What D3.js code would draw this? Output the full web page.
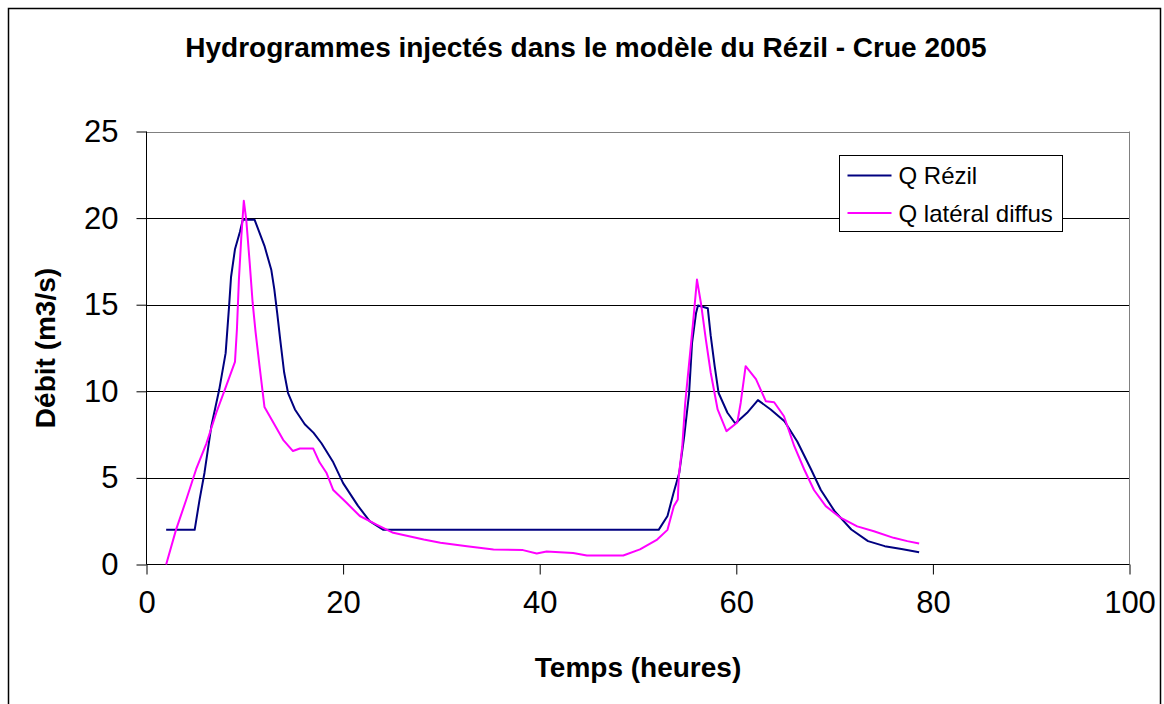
<!DOCTYPE html>
<html>
<head>
<meta charset="utf-8">
<script src="https://cdn.jsdelivr.net/npm/d3@7"></script>
<style>
  html, body { margin: 0; padding: 0; background: #fff; }
  .chart { width: 1164px; height: 704px; }
  text { font-family: "Liberation Sans", Arial, sans-serif; fill: #000; }
</style>
</head>
<body>
<div class="chart"></div>
<script>
const title = 'Hydrogrammes injectés dans le modèle du Rézil - Crue 2005';
const xLabel = 'Temps (heures)';
const yLabel = 'Débit (m3/s)';
const seriesNames = ['Q Rézil', 'Q latéral diffus'];
const seriesColors = ['#000080', '#ff00ff'];

const xTicks = [0, 20, 40, 60, 80, 100];
const yTicks = [0, 5, 10, 15, 20, 25];

// Q Rézil
const rezilT = [2, 4.9, 5.4, 5.9, 6.6, 7.4, 8.05, 8.4, 8.6, 9.0, 9.5, 9.8, 11.0, 12.0, 12.7, 13.0, 13.3,
  13.6, 14.0, 14.4, 15.1, 16.1, 17.0, 17.8, 19.0, 20.0, 21.5, 22.7, 24.1, 52.1, 53.0, 53.6, 54.2,
  54.7, 55.2, 55.5, 55.9, 56.1, 57.1, 57.4, 57.8, 58.2, 59.1, 59.9, 61.1, 62.2, 63.5, 64.9, 66.2,
  67.6, 68.6, 70.0, 71.7, 73.4, 75.1, 76.8, 78.6];
const rezilQ = [2, 2, 3.75, 5.3, 8.0, 10.1, 12.2, 14.9, 16.6, 18.2, 19.2, 19.9, 19.9, 18.4, 17.0, 15.9,
  14.5, 13.0, 11.1, 9.9, 8.95, 8.1, 7.6, 7.0, 5.9, 4.7, 3.4, 2.5, 2.0, 2.0, 2.8, 4.1, 5.3, 7.4, 9.9,
  12.8, 14.5, 14.95, 14.8, 13.2, 11.45, 9.9, 8.76, 8.14, 8.76, 9.49, 8.95, 8.27, 7.1, 5.5, 4.3, 3.08,
  2.02, 1.35, 1.06, 0.9, 0.71];

// Q latéral diffus
const lateralT = [2, 3.0, 4.05, 5.05, 6.1, 7.1, 8.1, 9.0, 9.2, 9.4, 9.65, 9.9, 10.15, 10.5, 10.8, 11.1,
  11.5, 12.0, 12.9, 13.9, 14.9, 15.6, 16.95, 17.6, 18.3, 19.0, 20.35, 21.7, 23.4, 25.1, 28.2, 29.9,
  32.6, 35.3, 38.3, 39.7, 40.7, 43.4, 44.8, 48.5, 50.2, 51.95, 53.0, 53.65, 54.05, 54.15, 54.5, 54.8,
  55.3, 55.6, 56.0, 56.4, 56.9, 57.4, 58.1, 59.0, 60.1, 60.45, 60.95, 62.0, 63.0, 63.85, 64.85, 65.9,
  66.9, 67.9, 69.1, 70.6, 72.3, 74.0, 76.0, 77.4, 78.6];
const lateralQ = [0, 2.0, 3.75, 5.5, 7.0, 8.76, 10.3, 11.7, 13.6, 16.45, 18.96, 21.0, 19.9, 17.4, 15.1,
  13.4, 11.45, 9.1, 8.2, 7.2, 6.55, 6.7, 6.7, 5.9, 5.3, 4.3, 3.56, 2.8, 2.3, 1.83, 1.44, 1.25, 1.06,
  0.87, 0.83, 0.64, 0.75, 0.67, 0.52, 0.52, 0.87, 1.44, 2.0, 3.37, 3.75, 5.1, 6.8, 9.3, 12.2, 13.95,
  16.45, 15.1, 13.0, 11.07, 8.95, 7.7, 8.2, 9.34, 11.45, 10.7, 9.43, 9.37, 8.56, 6.83, 5.5, 4.3, 3.37,
  2.7, 2.2, 1.92, 1.54, 1.35, 1.21];

const series = [
  { name: seriesNames[0], color: seriesColors[0], points: rezilT.map((t, i) => [t, rezilQ[i]]) },
  { name: seriesNames[1], color: seriesColors[1], points: lateralT.map((t, i) => [t, lateralQ[i]]) }
];

const svg = d3.select('.chart')
  .append('svg')
  .attr('width', 1164)
  .attr('height', 704);

svg.append('rect')
  .attr('width', 1164)
  .attr('height', 704)
  .style('fill', '#fff');

// outer frame of the chart
svg.append('rect')
  .attr('x', 8.5)
  .attr('y', 8.5)
  .attr('width', 1152)
  .attr('height', 720)
  .style('fill', 'none')
  .style('stroke', '#000')
  .style('stroke-width', 1.5);

const plot = { left: 146.5, right: 1129.5, top: 131.5, bottom: 564.5 };

const xScale = d3.scaleLinear()
  .domain([0, 100])
  .range([plot.left, plot.right]);

const yScale = d3.scaleLinear()
  .domain([0, 25])
  .range([plot.bottom, plot.top]);

// gridlines
svg.append('g')
  .selectAll('line')
  .data(yTicks.filter(d => d > 0))
  .enter()
  .append('line')
  .attr('x1', plot.left)
  .attr('x2', plot.right)
  .attr('y1', d => Math.round(yScale(d)) + 0.5)
  .attr('y2', d => Math.round(yScale(d)) + 0.5)
  .style('stroke', d => d === 25 ? '#808080' : '#000')
  .style('stroke-width', 1);

svg.append('line')
  .attr('x1', plot.right)
  .attr('x2', plot.right)
  .attr('y1', plot.top)
  .attr('y2', plot.bottom)
  .style('stroke', '#808080');

const xAxis = d3.axisBottom(xScale)
  .tickValues(xTicks)
  .tickSize(10)
  .tickPadding(16)
  .tickFormat(d3.format('d'));

const yAxis = d3.axisLeft(yScale)
  .tickValues(yTicks)
  .tickSize(10)
  .tickPadding(18)
  .tickFormat(d3.format('d'));

const gx = svg.append('g')
  .attr('transform', `translate(0, ${plot.bottom})`)
  .call(xAxis);

const gy = svg.append('g')
  .attr('transform', `translate(${plot.left}, 0)`)
  .call(yAxis);

[gx, gy].forEach(g => {
  g.select('.domain').style('stroke', '#000');
  g.selectAll('.tick line').style('stroke', '#000');
  g.selectAll('.tick text')
    .style('font-family', '"Liberation Sans", Arial, sans-serif')
    .style('font-size', '31px')
    .style('fill', '#000');
});

gx.select('.domain').attr('d', `M${plot.left},0H${plot.right}`);
gy.select('.domain').attr('d', `M0,${plot.top}V${plot.bottom}`);

// series
const line = d3.line()
  .x(d => xScale(d[0]))
  .y(d => yScale(d[1]));

svg.append('g')
  .selectAll('path')
  .data(series)
  .enter()
  .append('path')
  .attr('d', d => line(d.points))
  .style('fill', 'none')
  .style('stroke', d => d.color)
  .style('stroke-width', 2)
  .style('stroke-linejoin', 'round');

// titles
svg.append('text')
  .attr('x', 586)
  .attr('y', 57)
  .attr('text-anchor', 'middle')
  .style('font-weight', 'bold')
  .style('font-size', '28px')
  .text(title);

svg.append('text')
  .attr('x', 638)
  .attr('y', 677)
  .attr('text-anchor', 'middle')
  .style('font-weight', 'bold')
  .style('font-size', '28px')
  .text(xLabel);

svg.append('text')
  .attr('transform', `translate(55, ${(plot.top + plot.bottom) / 2}) rotate(-90)`)
  .attr('text-anchor', 'middle')
  .style('font-weight', 'bold')
  .style('font-size', '28px')
  .text(yLabel);

// legend
const legend = svg.append('g')
  .attr('transform', 'translate(839.5, 155.5)');

legend.append('rect')
  .attr('width', 223)
  .attr('height', 76)
  .style('fill', '#fff')
  .style('stroke', '#000')
  .style('stroke-width', 1);

const legendRows = legend.selectAll('.legend-row')
  .data(series)
  .enter()
  .append('g')
  .classed('legend-row', true)
  .attr('transform', (d, i) => `translate(0, ${20 + i * 37.5})`);

legendRows.append('line')
  .attr('x1', 8)
  .attr('x2', 52)
  .style('stroke', d => d.color)
  .style('stroke-width', 2);

legendRows.append('text')
  .attr('x', 59)
  .attr('y', 8.5)
  .style('font-size', '24px')
  .text(d => d.name);
</script>
</body>
</html>
